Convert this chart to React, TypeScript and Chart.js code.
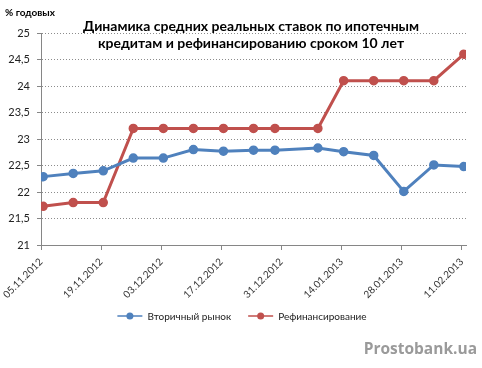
import { useEffect, useRef } from "react";
import { Chart, registerables } from "chart.js";

Chart.register(...registerables);

// Day offsets from 05.11.2012 for each observation
const pointDays = [0, 7, 14, 21, 28, 35, 42, 49, 54, 64, 70, 77, 84, 91, 98];
const secondaryMarket = [22.29, 22.35, 22.4, 22.64, 22.64, 22.8, 22.77, 22.79, 22.79, 22.83, 22.76, 22.69, 22.01, 22.51, 22.48];
const refinancing = [21.73, 21.8, 21.8, 23.2, 23.2, 23.2, 23.2, 23.2, 23.2, 23.2, 24.1, 24.1, 24.1, 24.1, 24.6];
const seriesNames = ["Вторичный рынок", "Рефинансирование"];
const seriesColors = ["#4f81bd", "#c0504d"];

const tickDays = [0, 14, 28, 42, 56, 70, 84, 98];
const tickLabels = ["05.11.2012", "19.11.2012", "03.12.2012", "17.12.2012", "31.12.2012", "14.01.2013", "28.01.2013", "11.02.2013"];

const yMin = 21;
const yMax = 25;
const yStep = 0.5;

const titleLines = ["Динамика средних реальных ставок по ипотечным", "кредитам и рефинансированию сроком 10 лет"];
const unitLabel = "% годовых";
const watermark = "Prostobank.ua";

const W = 482;
const H = 368;

export default function App() {
  const ref = useRef<HTMLCanvasElement | null>(null);

  useEffect(() => {
    const canvas = ref.current;
    if (!canvas) return;

    const extras = {
      id: "extras",
      afterDraw(chart: any) {
        const ctx = chart.ctx as CanvasRenderingContext2D;
        ctx.save();
        // unit label
        ctx.fillStyle = "#000";
        ctx.font = "bold 10px Lato";
        ctx.textAlign = "left";
        ctx.textBaseline = "middle";
        ctx.fillText(unitLabel, 5, 13);
        // title
        ctx.font = "bold 14px Lato";
        ctx.textAlign = "center";
        ctx.fillStyle = "#000";
        ctx.fillText(titleLines[0], 251, 26);
        ctx.fillText(titleLines[1], 251, 43);
        // legend
        ctx.font = "10px Lato";
        const lineLen = 25;
        const gapText = 5;
        const gapItems = 17;
        const widths = seriesNames.map((n) => ctx.measureText(n).width);
        const total = widths.reduce((a, w) => a + lineLen + gapText + w, 0) + gapItems * (seriesNames.length - 1);
        let x = 242 - total / 2;
        const ly = 316;
        seriesNames.forEach((name, i) => {
          ctx.strokeStyle = seriesColors[i];
          ctx.lineWidth = 1.5;
          ctx.beginPath();
          ctx.moveTo(x, ly);
          ctx.lineTo(x + lineLen, ly);
          ctx.stroke();
          ctx.fillStyle = seriesColors[i];
          ctx.beginPath();
          ctx.arc(x + lineLen / 2, ly, 3.5, 0, Math.PI * 2);
          ctx.fill();
          ctx.fillStyle = "#222";
          ctx.textAlign = "left";
          ctx.fillText(name, x + lineLen + gapText, ly + 0.5);
          x += lineLen + gapText + widths[i] + gapItems;
        });
        // watermark
        ctx.font = "bold 15.5px 'Open Sans'";
        ctx.fillStyle = "#9a9a9a";
        ctx.textAlign = "right";
        ctx.fillText(watermark, 477, 350);
        ctx.restore();
      },
    };

    const chart = new Chart(canvas, {
      type: "line",
      data: {
        datasets: [secondaryMarket, refinancing].map((vals, i) => ({
          label: seriesNames[i],
          data: vals.map((v, j) => ({ x: pointDays[j], y: v })),
          borderColor: seriesColors[i],
          backgroundColor: seriesColors[i],
          pointBackgroundColor: seriesColors[i],
          pointBorderColor: seriesColors[i],
          borderWidth: 3,
          pointRadius: 4,
          pointBorderWidth: 1.5,
          tension: 0,
        })),
      },
      options: {
        responsive: false,
        animation: false,
        events: [],
        layout: { padding: { top: 33, right: 16, left: 0, bottom: 0 } },
        plugins: {
          legend: { display: false },
          title: { display: false },
          tooltip: { enabled: false },
        },
        scales: {
          x: {
            type: "linear",
            min: -0.5,
            max: 98.5,
            afterBuildTicks: (scale: any) => {
              scale.ticks = tickDays.map((d) => ({ value: d - 0.5 }));
            },
            afterFit: (scale: any) => {
              scale.height = H - 245;
              scale.paddingLeft = 0;
              scale.paddingRight = 0;
            },
            ticks: {
              autoSkip: false,
              maxRotation: 45,
              minRotation: 45,
              padding: 6,
              color: "#333",
              font: { family: "Lato", size: 10 },
              callback: (v: any) => {
                const idx = tickDays.indexOf(Math.round(Number(v) + 0.5));
                return idx >= 0 ? tickLabels[idx] : "";
              },
            },
            grid: {
              drawOnChartArea: false,
              drawTicks: true,
              tickLength: 5,
              tickColor: "#868686",
              tickBorderDash: [],
            },
            border: { display: true, color: "#868686", width: 1 },
          },
          y: {
            min: yMin,
            max: yMax,
            afterFit: (scale: any) => {
              scale.width = 41;
              scale.paddingTop = 0;
              scale.paddingBottom = 0;
            },
            ticks: {
              stepSize: yStep,
              padding: 7,
              color: "#222",
              font: { family: "Lato", size: 11 },
              callback: (v: any) => String(v).replace(".", ","),
            },
            grid: {
              color: "#8c8c8c",
              drawTicks: true,
              tickLength: 4,
              tickColor: "#868686",
              tickBorderDash: [],
            },
            border: { display: true, color: "#868686", width: 1, dash: [1, 2] },
          },
        },
      },
      plugins: [extras],
    } as any);

    return () => chart.destroy();
  }, []);

  return (
    <div style={{ position: "fixed", left: 0, top: 0, width: W, height: H, background: "#fff" }}>
      <canvas ref={ref} width={W} height={H} style={{ width: W, height: H, display: "block" }} />
    </div>
  );
}
